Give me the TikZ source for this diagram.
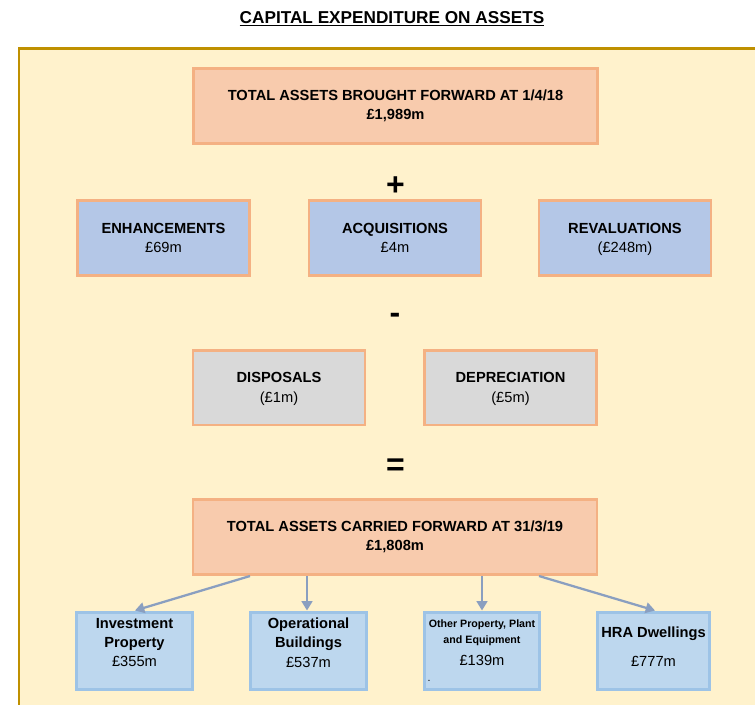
\documentclass[tikz,border=0pt]{standalone}
\usepackage{fontspec}
\setmainfont{Liberation Sans}
\usetikzlibrary{arrows.meta}
\definecolor{bgyellow}{HTML}{FFF2CC}
\definecolor{framegold}{HTML}{BF9000}
\definecolor{peachfill}{HTML}{F8CBAD}
\definecolor{peachline}{HTML}{F4B183}
\definecolor{bluefill}{HTML}{B4C7E7}
\definecolor{greyfill}{HTML}{D9D9D9}
\definecolor{lbluefill}{HTML}{BDD7EE}
\definecolor{lblueline}{HTML}{9DC3E6}
\definecolor{arrowblue}{HTML}{8A9FC0}
\newcommand{\nodepth}[1]{\raisebox{0pt}[\height][0pt]{#1}}
\tikzset{
  box/.style={draw=peachline, line width=2pt, inner sep=0pt, align=center,
    font=\fontsize{11}{14.5}\selectfont},
  totalbox/.style={box, fill=peachfill, minimum width=303pt, minimum height=56.5pt},
  addbox/.style={box, fill=bluefill, minimum width=129pt, minimum height=56.5pt},
  subbox/.style={box, fill=greyfill, minimum width=129pt, minimum height=56pt},
  assetbox/.style={draw=lblueline, fill=lbluefill, line width=2.2pt, inner sep=0pt, minimum height=58pt},
  assettext/.style={align=center, inner sep=0pt, font=\fontsize{11}{14.6}\selectfont},
  signtext/.style={inner sep=0pt, font=\fontsize{24}{24}\selectfont\bfseries},
  conn/.style={draw=arrowblue, line width=1.7pt, -{Triangle[length=7pt,width=8pt]}}
}
\begin{document}
\begin{tikzpicture}[x=0.75pt,y=-0.75pt]
\useasboundingbox (0,0) rectangle (755,704);
\begin{scope}
\clip (0,0) rectangle (755,704);
\draw[draw=framegold, fill=bgyellow, line width=1.9pt] (19,48.5) rectangle (780,730);
\end{scope}

\node[inner sep=0pt, font=\fontsize{12.9}{15}\selectfont\bfseries] (title) at (392,19) {\underline{CAPITAL EXPENDITURE ON ASSETS}};

\node[totalbox] (bf) at (395.5,106) {\textbf{TOTAL ASSETS BROUGHT FORWARD AT 1/4/18}\\\textbf{£1,989m}};

\node[signtext] (plus) at (395.5,186) {+};

\node[addbox] (enh) at (163.5,238) {\textbf{ENHANCEMENTS}\\£69m};
\node[addbox] (acq) at (395,238) {\textbf{ACQUISITIONS}\\£4m};
\node[addbox] (rev) at (625,238) {\textbf{REVALUATIONS}\\\nodepth{(£248m)}};

\node[signtext] (minus) at (395,318) {-};

\node[subbox] (dis) at (279,387.5) {\textbf{DISPOSALS}\\\nodepth{(£1m)}};
\node[subbox] (dep) at (510.5,387.5) {\textbf{DEPRECIATION}\\\nodepth{(£5m)}};

\node[signtext] (equals) at (395.5,467) {=};

\node[totalbox] (cf) at (395,537) {\textbf{TOTAL ASSETS CARRIED FORWARD AT 31/3/19}\\\textbf{£1,808m}};

\node[assetbox, minimum width=87pt] (inv) at (134.5,651) {};
\node[assetbox, minimum width=87pt] (ops) at (308.5,651) {};
\node[assetbox, minimum width=86.5pt] (oth) at (482,651) {};
\node[assetbox, minimum width=84pt] (hra) at (653.5,651) {};

\node[assettext] (invt) at (134.5,642.5) {\textbf{Investment}\\\textbf{Property}\\£355m};
\node[assettext] (opst) at (308.5,642.5) {\textbf{Operational}\\\textbf{Buildings}\\£537m};
\node[assettext] (otht) at (482,642.5) {\fontsize{8}{12}\selectfont\textbf{Other Property, Plant}\\[-2.5pt]\fontsize{8}{12}\selectfont\textbf{and Equipment}\\[2pt]\fontsize{11}{14.6}\selectfont £139m};
\node[inner sep=0pt, font=\fontsize{8}{8}\selectfont] (dot) at (429,681) {.};
\node[assettext] (hrat) at (653.5,646.5) {\textbf{HRA Dwellings}\\[7pt]£777m};

\coordinate (c1) at (250,576);
\coordinate (c2) at (307,576);
\coordinate (c3) at (482,576);
\coordinate (c4) at (539,576);
\coordinate (e1) at (135,610.5);
\coordinate (e2) at (307,610.5);
\coordinate (e3) at (482,610.5);
\coordinate (e4) at (655,610.5);
\draw[conn] (c1) -- (e1);
\draw[conn] (c2) -- (e2);
\draw[conn] (c3) -- (e3);
\draw[conn] (c4) -- (e4);
\end{tikzpicture}
\end{document}
